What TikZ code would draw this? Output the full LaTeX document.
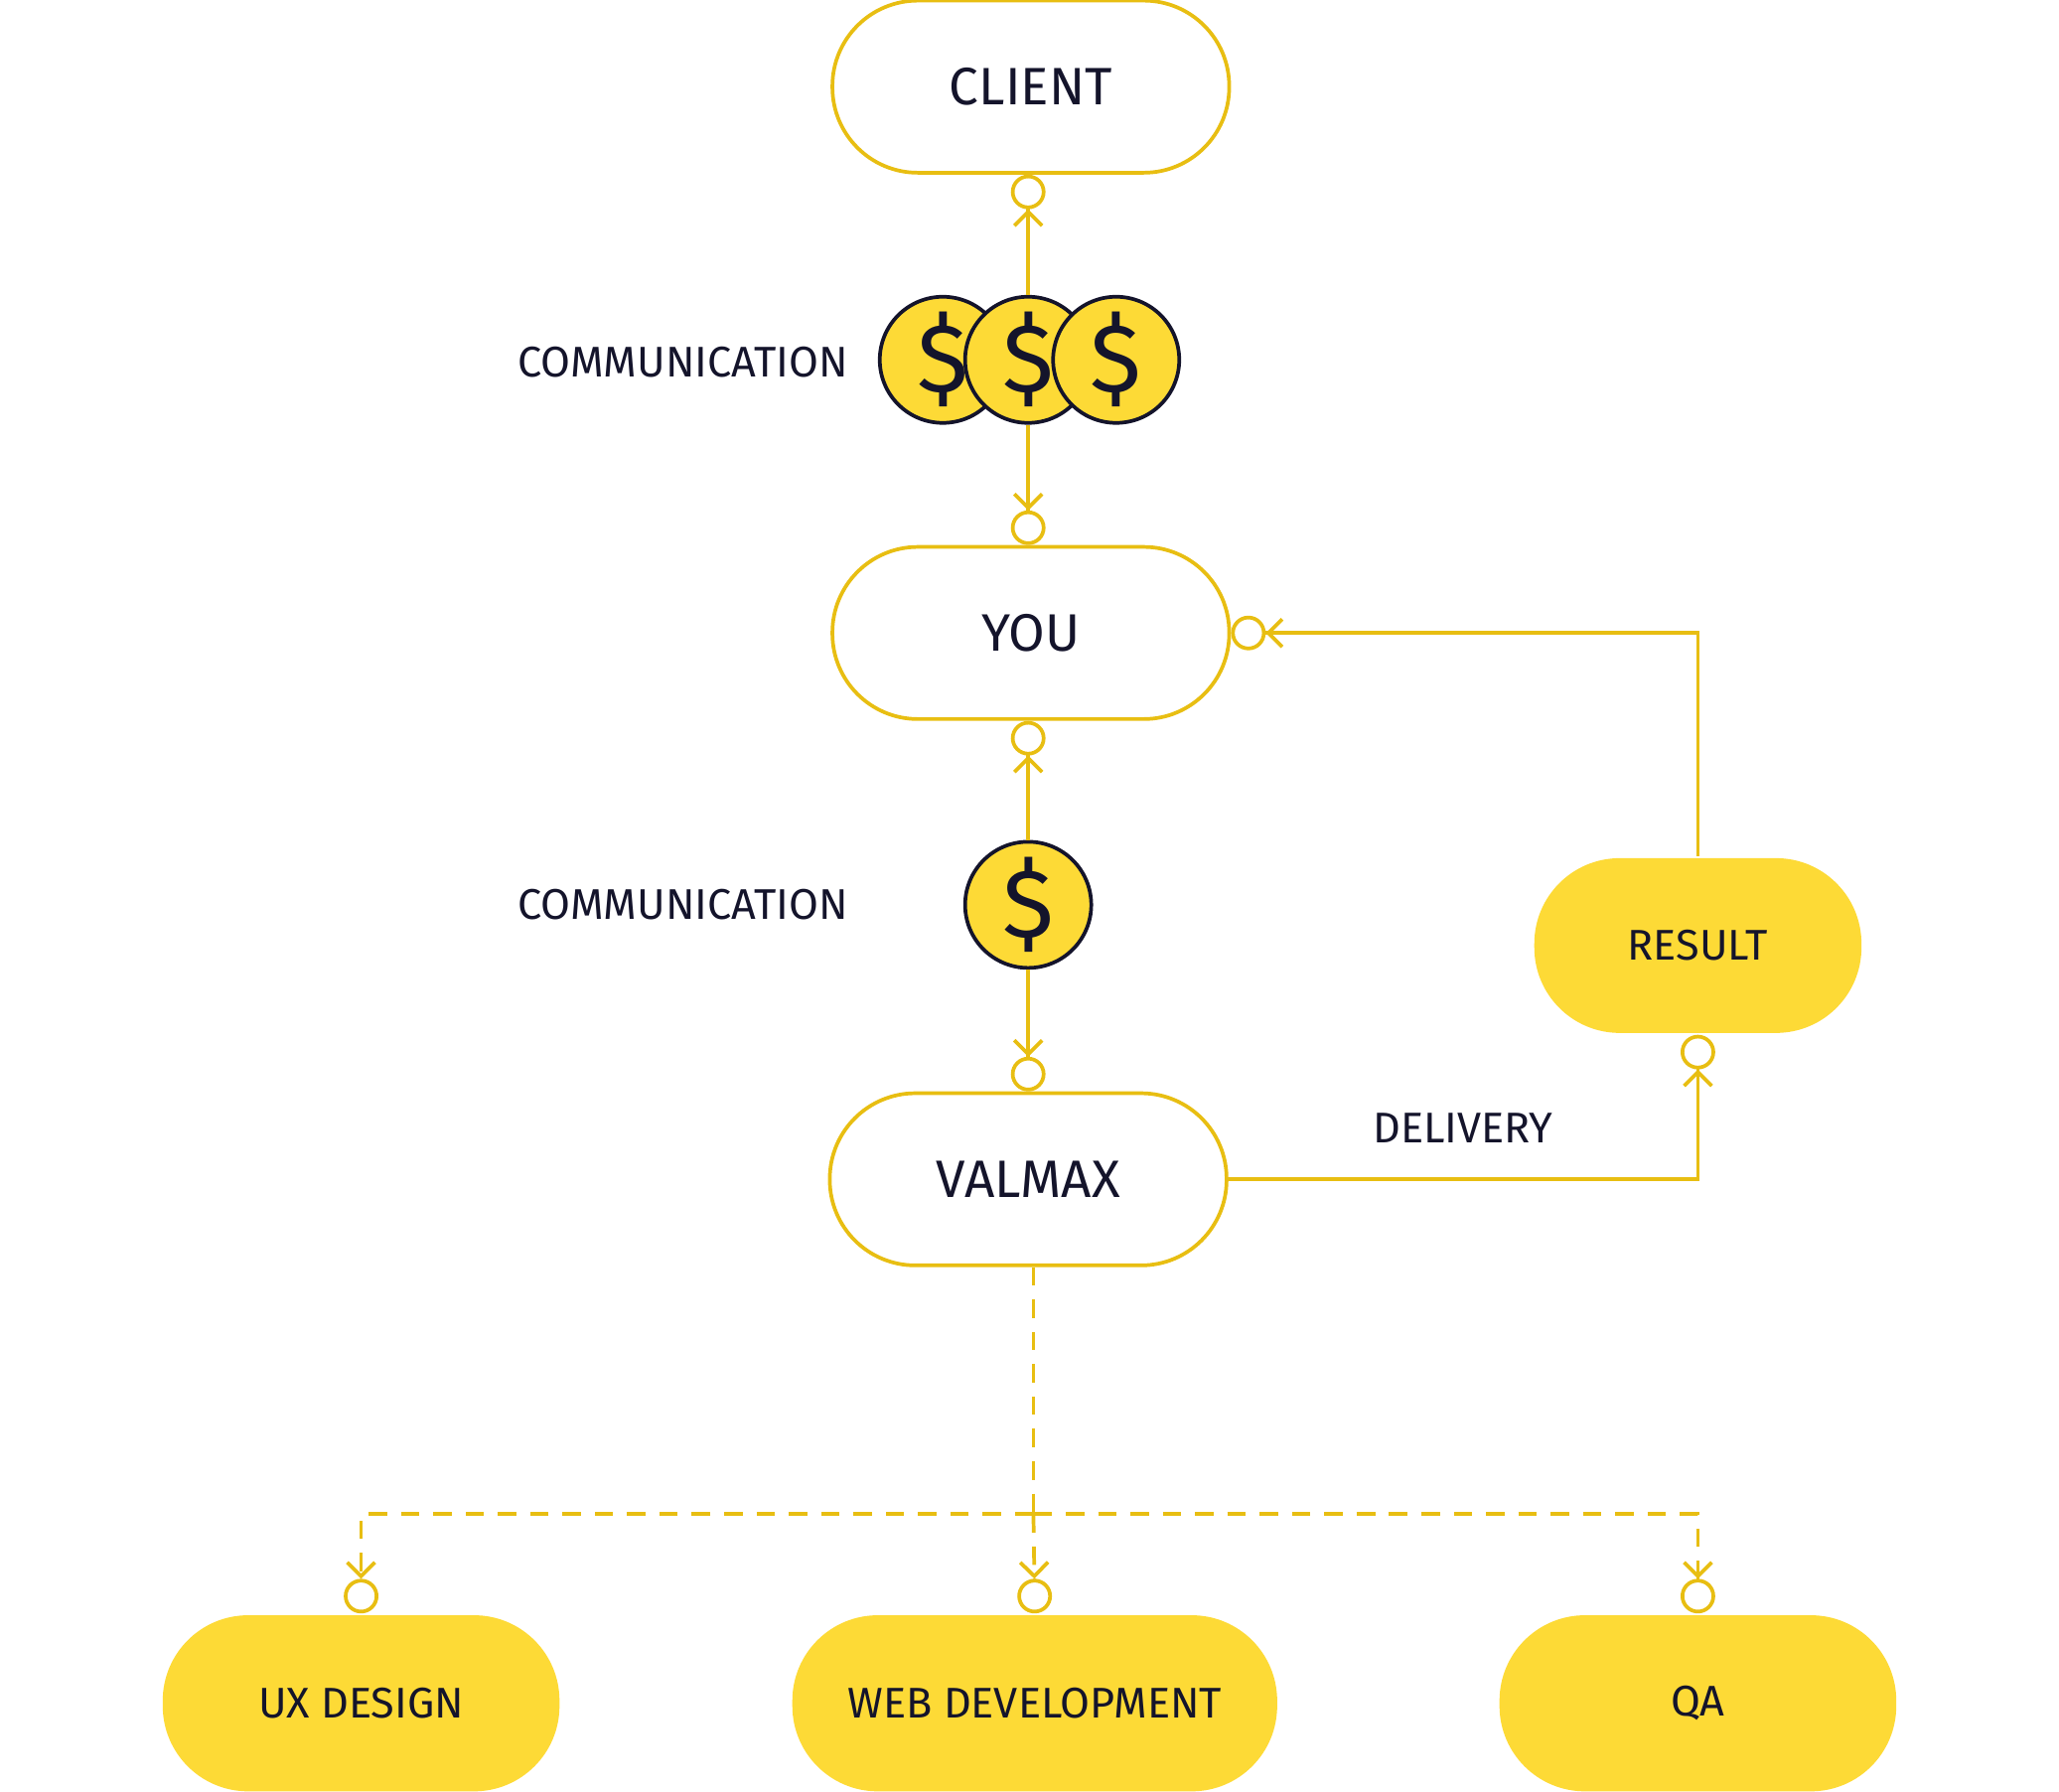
\documentclass[tikz,border=0pt]{standalone}
\usepackage{fontspec}
\setmainfont{Fira Sans}
\usetikzlibrary{arrows.meta}
\definecolor{gold}{HTML}{E8BE12}
\definecolor{sun}{HTML}{FDDA36}
\definecolor{ink}{HTML}{14142B}
\tikzset{
  pill/.style={draw=gold, line width=0.8pt, rounded corners=0.65cm, minimum width=3.02cm,
    minimum height=1.31cm, text=ink, font=\fontsize{11.4}{12}\selectfont},
  task/.style={pill, fill=sun, draw=none, font=\fontsize{9.3}{10}\selectfont},
  coin/.style={circle, draw=ink, line width=0.8pt, fill=sun, minimum size=0.96cm, inner sep=0pt,
    text=ink, font=\fontsize{21}{21}\selectfont},
  tag/.style={text=ink, font=\fontsize{9.3}{10}\selectfont},
  link/.style={draw=gold, line width=0.8pt,
    -{Straight Barb[length=3pt,width=6pt]Circle[open,length=7.5pt,width=7.5pt,sep=-2pt]}},
  dlink/.style={link, dashed, dash pattern=on 4pt off 3pt}
}
\begin{document}
\begin{tikzpicture}[x=0.01cm,y=-0.01cm]
  \useasboundingbox (0,0) rectangle (1568,1364);
  % boxes
  \node[pill] (client) at (785,66) {CLIENT};
  \node[pill] (you) at (785,482) {YOU};
  \node[pill] (valmax) at (783,898) {VALMAX};
  \node[task, minimum width=2.49cm, minimum height=1.33cm] (result) at (1293,720) {RESULT};
  \node[task, minimum height=1.34cm] (ux) at (275,1297) {UX DESIGN};
  \node[task, minimum width=3.69cm, minimum height=1.34cm] (web) at (788,1297) {WEB DEVELOPMENT};
  \node[task, minimum height=1.34cm] (qa) at (1293,1297) {QA};
  % coins
  \node[coin] (coinA) at (718,274) {\$};
  \node[coin] (coinB) at (783,274) {\$};
  \node[coin] (coinC) at (850,274) {\$};
  \node[coin] (coinD) at (783,689) {\$};
  \node[tag] (comA) at (520,276) {COMMUNICATION};
  \node[tag] (comB) at (520,689) {COMMUNICATION};
  \node[tag] (deliv) at (1114,859) {DELIVERY};
  % links
  \draw[link] (coinB.north) -- ([yshift=-2pt]coinB.north |- client.south);
  \draw[link] (coinB.south) -- ([yshift=2pt]coinB.south |- you.north);
  \draw[link] (coinD.north) -- ([yshift=-2pt]coinD.north |- you.south);
  \draw[link] (coinD.south) -- ([yshift=2pt]coinD.south |- valmax.north);
  \draw[link] (valmax.east) -| ([yshift=-2pt]result.south);
  \draw[link] (result.north) |- ([xshift=2pt]you.east);
  \coordinate (fork) at (787,1153);
  \draw[gold, line width=0.8pt, dashed, dash pattern=on 4pt off 3pt] (fork |- valmax.south) -- (fork);
  \draw[dlink] (fork) -| ([yshift=2pt]ux.north);
  \draw[dlink] (fork) -- ([yshift=2pt]web.north);
  \draw[dlink] (fork) -| ([yshift=2pt]qa.north);
\end{tikzpicture}
\end{document}
